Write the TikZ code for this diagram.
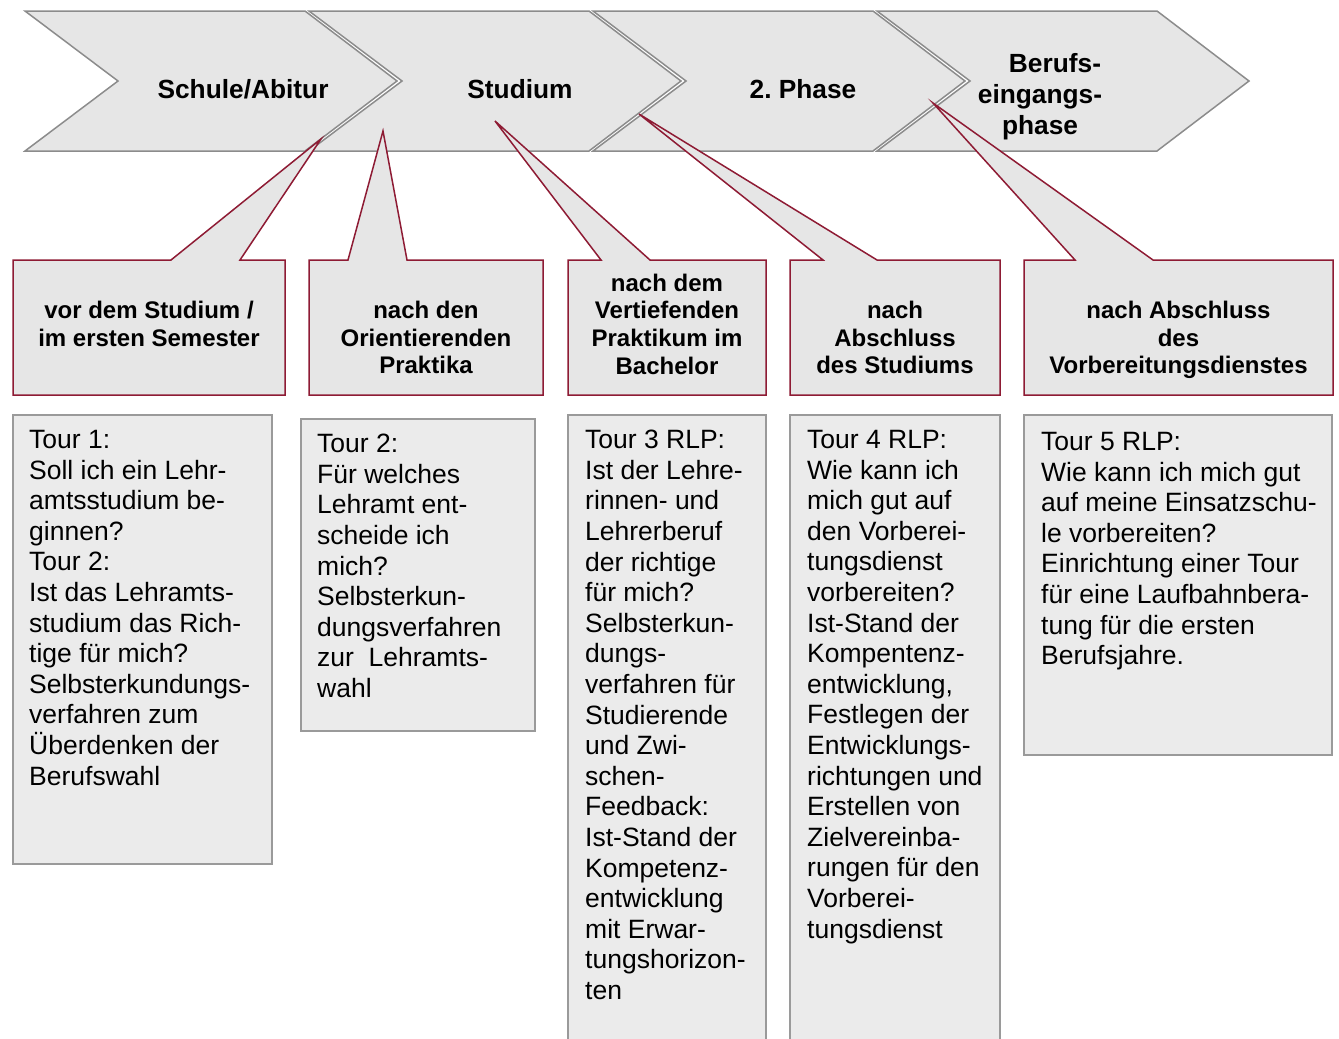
\documentclass[tikz,border=0pt]{standalone}
\usepackage{fontspec}
\setmainfont{Liberation Sans}
\frenchspacing
\usetikzlibrary{positioning}
\definecolor{chevfill}{HTML}{E6E6E6}
\definecolor{chevline}{HTML}{8C8C8C}
\definecolor{calloutred}{HTML}{8E1B34}
\definecolor{boxfill}{HTML}{EBEBEB}
\definecolor{boxline}{HTML}{9A9A9A}
\tikzset{
  chevron/.style={fill=chevfill, draw=chevline, line width=1.5pt},
  phasetext/.style={font=\fontsize{26.3}{31}\selectfont\bfseries, align=center, inner sep=0pt},
  callout/.style={fill=chevfill, draw=calloutred, line width=1.5pt},
  labeltext/.style={font=\fontsize{24}{27.7}\selectfont\bfseries, align=center, inner sep=0pt, anchor=north},
  tourbox/.style={fill=boxfill, draw=boxline, line width=2pt},
  tourtext/.style={font=\fontsize{26.5}{30.6}\selectfont, align=left, inner sep=0pt, anchor=north west},
}
\begin{document}
\begin{tikzpicture}[x=1pt, y=-1pt]
  \useasboundingbox (0,0) rectangle (1339,1039);
  % phases
  \foreach \x in {25,309,593,877}
    \draw[chevron] (\x,11) -- ++(280,0) -- ++(92,70) -- ++(-92,70) -- ++(-280,0) -- ++(93,-70) -- cycle;
  \node[phasetext, anchor=base] (ph1) at (243,98) {Schule/Abitur};
  \node[phasetext, anchor=base] (ph2) at (520,98) {Studium};
  \node[phasetext, anchor=base] (ph3) at (803,98) {2. Phase};
  \node[phasetext, anchor=north] (ph4) at (1040,53) {\hspace*{30pt}Berufs-\\eingangs-\\phase};
  % callouts: left, right, pointer base, pointer tip
  \foreach \xa/\xb/\pa/\pb/\tx/\ty in {13/285/171/240/321/139, 309/543/348/407/383/131,
      568/766/601/650/495/121, 790/1000/823/877/639/114, 1024/1333/1075/1153/933/103}
    \draw[callout] (\xa,260) -- (\pa,260) -- (\tx,\ty) -- (\pb,260) -- (\xb,260)
      -- (\xb,395) -- (\xa,395) -- cycle;
  \node[labeltext] (lab1) at (149,301) {vor dem Studium /\\im ersten Semester};
  \node[labeltext] (lab2) at (426,301) {nach den\\Orientierenden\\Praktika};
  \node[labeltext] (lab3) at (667,273.5) {nach dem\\Vertiefenden\\Praktikum im\\Bachelor};
  \node[labeltext] (lab4) at (895,301) {nach\\Abschluss\\des Studiums};
  \node[labeltext] (lab5) at (1178.5,301) {nach Abschluss\\des\\Vorbereitungsdienstes};
  % tours
  \draw[tourbox] (13,415) rectangle (272,864);
  \draw[tourbox] (301,419) rectangle (535,731);
  \draw[tourbox] (568,415) rectangle (766,1043);
  \draw[tourbox] (790,415) rectangle (1000,1043);
  \draw[tourbox] (1024,415) rectangle (1332,755);
  \node[tourtext] (tour1) at (29,430) {Tour 1:\\Soll ich ein Lehr-\\amtsstudium be-\\ginnen?\\Tour 2:\\Ist das Lehramts-\\studium das Rich-\\tige für mich?\\Selbsterkundungs-\\verfahren zum\\Überdenken der\\Berufswahl};
  \node[tourtext] (tour2) at (317,434) {Tour 2:\\Für welches\\Lehramt ent-\\scheide ich\\mich?\\Selbsterkun-\\dungsverfahren\\zur\ \ Lehramts-\\wahl};
  \node[tourtext] (tour3) at (585,430) {Tour 3 RLP:\\Ist der Lehre-\\rinnen- und\\Lehrerberuf\\der richtige\\für mich?\\Selbsterkun-\\dungs-\\verfahren für\\Studierende\\und Zwi-\\schen-\\Feedback:\\Ist-Stand der\\Kompetenz-\\entwicklung\\mit Erwar-\\tungshorizon-\\ten};
  \node[tourtext] (tour4) at (807,430) {Tour 4 RLP:\\Wie kann ich\\mich gut auf\\den Vorberei-\\tungsdienst\\vorbereiten?\\Ist-Stand der\\Kompentenz-\\entwicklung,\\Festlegen der\\Entwicklungs-\\richtungen und\\Erstellen von\\Zielvereinba-\\rungen für den\\Vorberei-\\tungsdienst};
  \node[tourtext] (tour5) at (1041,432) {Tour 5 RLP:\\Wie kann ich mich gut\\auf meine Einsatzschu-\\le vorbereiten?\\Einrichtung einer Tour\\für eine Laufbahnbera-\\tung für die ersten\\Berufsjahre.};
\end{tikzpicture}
\end{document}
